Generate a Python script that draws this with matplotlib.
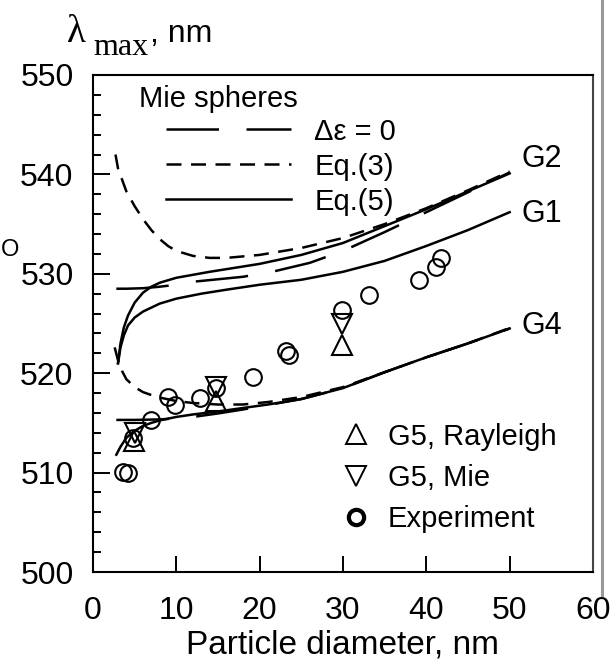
import numpy as np
import matplotlib
matplotlib.use('Agg')
import matplotlib.pyplot as plt
from matplotlib.lines import Line2D
from matplotlib.ticker import MultipleLocator

plt.rcParams['font.family'] = ['Liberation Sans', 'DejaVu Sans']

# ---------------------------------------------------------------- data
# G2, Eq.(5) / Eq.(3) / Mie (delta eps = 0)
g2_eq5_x = [3.0, 3.3, 3.7, 4.2, 5, 6, 7, 8, 10, 12, 14, 17, 20, 25, 30, 35, 40, 45, 50]
g2_eq5_y = [521.0, 523.0, 524.6, 525.8, 527.1, 528.1, 528.7, 529.1, 529.6, 529.9, 530.2,
            530.6, 531.0, 531.9, 533.1, 534.8, 536.5, 538.3, 540.1]
g2_eq3_x = [2.7, 3.0, 4, 5, 6, 7, 8, 9, 10, 12, 14, 16, 20, 25, 30, 35, 40, 45, 50]
g2_eq3_y = [542.0, 540.6, 538.3, 536.8, 535.5, 534.4, 533.5, 532.8, 532.3, 531.8, 531.6,
            531.6, 531.9, 532.6, 533.6, 535.0, 536.6, 538.4, 540.3]
g2_mie_x = [2.8, 4, 6, 8, 10, 12, 15, 18, 22, 26, 30, 35, 40, 45, 50]
g2_mie_y = [528.5, 528.5, 528.55, 528.7, 528.9, 529.2, 529.45, 529.7, 530.3, 531.1, 532.3,
            534.2, 536.2, 538.2, 540.2]

# G1, Eq.(5)
g1_x = [3.0, 3.3, 3.7, 4.2, 5, 6, 7, 8, 10, 13, 16, 20, 25, 30, 35, 40, 45, 50]
g1_y = [521.0, 522.6, 523.8, 524.8, 525.6, 526.2, 526.6, 527.0, 527.5, 528.0, 528.4,
        528.9, 529.4, 530.2, 531.3, 532.8, 534.4, 536.2]

# G4, Eq.(5) / Eq.(3) / Mie
g4_eq5_x = [2.8, 3.3, 4, 5, 6, 7, 8, 10, 12, 15, 18, 21, 25, 30, 35, 40, 45, 50]
g4_eq5_y = [511.8, 512.6, 513.5, 514.2, 514.7, 515.0, 515.25, 515.6, 515.85, 516.15, 516.5,
            516.85, 517.4, 518.5, 520.1, 521.6, 523.0, 524.5]
g4_eq3_x = [2.6, 3, 3.5, 4, 5, 6, 7, 8, 10, 12, 15, 18, 21, 25, 30, 35, 40, 45, 50]
g4_eq3_y = [522.6, 521.3, 520.2, 519.4, 518.6, 518.1, 517.8, 517.55, 517.2, 517.0, 516.85,
            516.85, 517.1, 517.6, 518.6, 520.1, 521.6, 523.0, 524.55]
g4_mie_x = [2.8, 5, 8, 10, 12, 15, 18, 21, 25, 30, 35, 40, 45, 50]
g4_mie_y = [515.3, 515.3, 515.35, 515.45, 515.6, 515.95, 516.35, 516.8, 517.4, 518.5,
            520.1, 521.6, 523.0, 524.5]

# G5 points and experiment
ray_x = [4.9, 14.8, 29.9]
ray_y = [513.2, 517.2, 522.8]
mie_x = [5.0, 14.8, 29.9]
mie_y = [514.0, 518.6, 525.0]
exp_x = [3.6, 4.2, 4.8, 7.0, 9.0, 9.8, 12.8, 14.8, 19.2, 23.15, 23.5, 29.9, 33.1, 39.1, 41.1, 41.7]
exp_y = [510.1, 509.95, 513.5, 515.3, 517.65, 516.8, 517.5, 518.5, 519.65, 522.2, 521.8,
         526.35, 527.9, 529.4, 530.7, 531.55]

curve_names = ['G2', 'G1', 'G4']
curve_label_y = [541.55, 536.0, 524.75]

# ---------------------------------------------------------------- styles
LW = 1.8
mie_style = dict(color='k', lw=LW, dashes=(21, 11))
eq3_style = dict(color='k', lw=LW, dashes=(6, 3.8))
eq5_style = dict(color='k', lw=LW)

fig = plt.figure(figsize=(6.16, 6.66), dpi=100)
ax = fig.add_axes([93 / 616, 94 / 666, 500 / 616, 497 / 666])

ax.plot(g2_mie_x, g2_mie_y, **mie_style)
ax.plot(g2_eq3_x, g2_eq3_y, **eq3_style)
ax.plot(g2_eq5_x, g2_eq5_y, **eq5_style)
ax.plot(g1_x, g1_y, **eq5_style)
ax.plot(g4_mie_x, g4_mie_y, **mie_style)
ax.plot(g4_eq3_x, g4_eq3_y, **eq3_style)
ax.plot(g4_eq5_x, g4_eq5_y, **eq5_style)

ax.plot(exp_x, exp_y, ls='none', marker='o', ms=12, mfc='none', mec='k', mew=1.5)
ax.plot(ray_x, ray_y, ls='none', marker='^', ms=15, mfc='none', mec='k', mew=1.5)
ax.plot(mie_x, mie_y, ls='none', marker='v', ms=15, mfc='none', mec='k', mew=1.5)

for name, yy in zip(curve_names, curve_label_y):
    ax.text(51.4, yy, name, fontsize=22, va='center', ha='left')

# axes, ticks
ax.set_xlim(0, 60)
ax.set_ylim(500, 550)
ax.set_xticks(range(0, 61, 10))
ax.set_yticks(range(500, 551, 10))
ax.yaxis.set_minor_locator(MultipleLocator(2))
ax.tick_params(which='both', direction='in', width=1.4, labelsize=23)
ax.tick_params(axis='x', which='major', length=11.5, pad=17)
ax.tick_params(axis='y', which='major', length=12, pad=14)
ax.tick_params(axis='y', which='minor', length=5.5)
for sp in ax.spines.values():
    sp.set_linewidth(1.5)
ax.spines['right'].set_color('#444444')

ax.set_xlabel('Particle diameter, nm', fontsize=24, labelpad=3)

# y label drawn as pieces: serif lambda, serif subscript, sans ", nm"
fig.text(67 / 616, 1 - 42 / 666, 'λ', family='Liberation Serif', fontsize=28, va='baseline')
fig.text(93 / 616, 1 - 55 / 666, 'max', family='Liberation Serif', fontsize=23, va='baseline')
fig.text(150 / 616, 1 - 42 / 666, ', nm', fontsize=23, va='baseline')

# line legend
ax.text(0.092, 0.936, 'Mie spheres', transform=ax.transAxes, fontsize=21, va='baseline')
line_handles = [Line2D([], [], **mie_style), Line2D([], [], **eq3_style), Line2D([], [], **eq5_style)]
leg1 = ax.legend(line_handles, ['Δε = 0', 'Eq.(3)', 'Eq.(5)'], loc='center left',
                 bbox_to_anchor=(0.145, 0.8155), frameon=False, fontsize=21,
                 handlelength=4.3, handletextpad=0.8, labelspacing=0.24,
                 borderpad=0, borderaxespad=0)
ax.add_artist(leg1)

# marker legend
mk = dict(ls='none', mfc='none', mec='k')
mark_handles = [Line2D([], [], marker='^', ms=14, mew=1.4, **mk),
                Line2D([], [], marker='v', ms=14, mew=1.4, **mk),
                Line2D([], [], marker='o', ms=11, mew=3, **mk)]
ax.legend(mark_handles, ['G5, Rayleigh', 'G5, Mie', 'Experiment'], loc='center left',
          bbox_to_anchor=(0.496, 0.189), frameon=False, fontsize=21,
          handlelength=1.0, handletextpad=0.6, labelspacing=0.46,
          borderpad=0, borderaxespad=0)

# scan edge artefacts: page border at right, stray letter at left
fig.add_artist(Line2D([602 / 616, 602 / 616], [1.0, 1 - 595 / 666], color='#999999', lw=2.2))
fig.text(1 / 616, 1 - 250 / 666, 'O', fontsize=17, ha='left', va='center')

fig.savefig('out.png', dpi=100)
